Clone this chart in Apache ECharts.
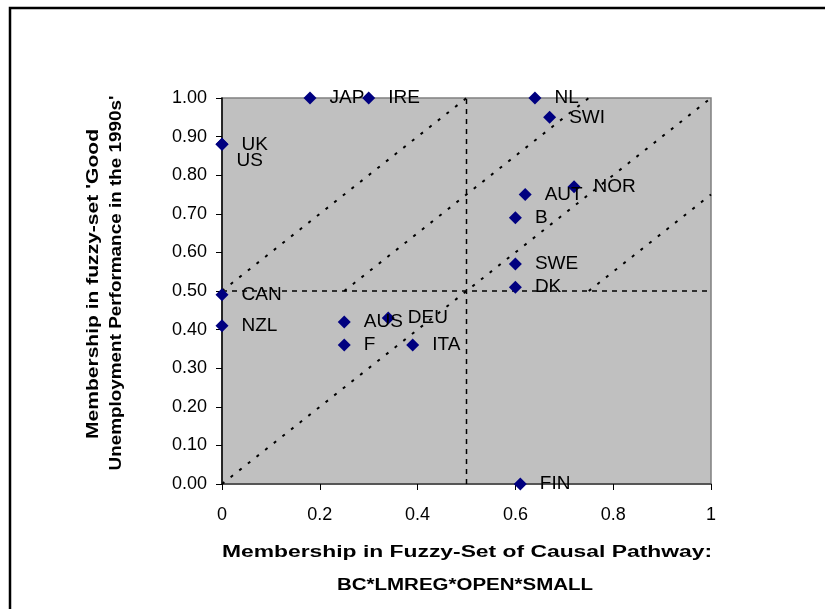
<!DOCTYPE html>
<html><head><meta charset="utf-8">
<script src="https://cdn.jsdelivr.net/npm/echarts@6/dist/echarts.min.js"></script>
<style>html,body{margin:0;padding:0;background:#fff}#chart{width:825px;height:609px}</style>
</head><body><div id="chart"></div>
<script>
// ---- data ----
const countries = ['JAP','IRE','NL','SWI','UK','US','NOR','AUT','B','SWE','DK','CAN','NZL','AUS','DEU','F','ITA','FIN'];
const pathwayMembership = [0.18,0.30,0.64,0.67,0,0,0.72,0.62,0.60,0.60,0.60,0,0,0.25,0.34,0.25,0.39,0.61];
const performanceMembership = [1.00,1.00,1.00,0.95,0.88,0.88,0.77,0.75,0.69,0.57,0.51,0.49,0.41,0.42,0.43,0.36,0.36,0.00];
const xTickLabels = ['0','0.2','0.4','0.6','0.8','1'];
const yTickLabels = ['0.00','0.10','0.20','0.30','0.40','0.50','0.60','0.70','0.80','0.90','1.00'];
// reference lines
const diagUpper = [[0,0.5],[0.5,1]];
const diagMidUpper = [[0.25,0.5],[0.75,1]];
const diagMain = [[0,0],[1,1]];
const diagLower = [[0.75,0.5],[1,0.75]];
const crossV = [[0.5,0],[0.5,1]];
const crossH = [[0,0.5],[1,0.5]];
const xTitle1 = 'Membership in Fuzzy-Set of Causal Pathway:';
const xTitle2 = 'BC*LMREG*OPEN*SMALL';
const yTitle1 = "Membership in fuzzy-set 'Good";
const yTitle2 = "Unemployment Performance in the 1990s'";

// ---- rendering ----
const FONT = '"Liberation Sans", Arial, sans-serif';
const labelOffsets = { US: [-5, 16] };
const cv = document.createElement('canvas').getContext('2d');
function measure(t, font) { cv.font = font; return cv.measureText(t).width; }
const TFONT = 'bold 16px ' + FONT;
function titleText(text, x, y, targetLen, rot) {
  const w = measure(text, TFONT);
  return {
    type: 'text', x: x, y: y, rotation: rot || 0, scaleX: targetLen / w, z: 100,
    style: { text: text, font: TFONT, fill: '#000', align: 'center', verticalAlign: 'middle',
             textAlign: 'center', textVerticalAlign: 'middle' }
  };
}

const points = countries.map((c, i) => {
  const item = { name: c, value: [pathwayMembership[i], performanceMembership[i]] };
  if (labelOffsets[c]) item.label = { offset: labelOffsets[c] };
  return item;
});

function refLine(data, dash, width) {
  return { type: 'line', data: data, symbol: 'none', silent: true, z: 1, animation: false,
           lineStyle: { color: '#000', width: width, type: dash } };
}

const chart = echarts.init(document.getElementById('chart'), null, { renderer: 'canvas' });
chart.setOption({
  animation: false,
  backgroundColor: '#fff',
  grid: { left: 222, top: 98, right: 114, bottom: 125, show: true, backgroundColor: '#C0C0C0',
          borderColor: '#808080', borderWidth: 1.5, containLabel: false },
  xAxis: {
    type: 'value', min: 0, max: 1, interval: 0.2,
    axisLine: { show: true, onZero: false, lineStyle: { color: '#404040', width: 1.5 } },
    axisTick: { show: true, length: 6, lineStyle: { color: '#000' } },
    splitLine: { show: false },
    axisLabel: { margin: 22, fontSize: 18, fontFamily: FONT, color: '#000',
                 formatter: (v) => xTickLabels[Math.round(v / 0.2)] }
  },
  yAxis: {
    type: 'value', min: 0, max: 1, interval: 0.1,
    axisLine: { show: true, onZero: false, lineStyle: { color: '#000', width: 1.5 } },
    axisTick: { show: true, length: 6, lineStyle: { color: '#000' } },
    splitLine: { show: false },
    axisLabel: { margin: 15, fontSize: 18, fontFamily: FONT, color: '#000',
                 formatter: (v) => yTickLabels[Math.round(v / 0.1)] }
  },
  series: [
    refLine(diagUpper, [3, 8], 2),
    refLine(diagMidUpper, [3, 8], 2),
    refLine(diagMain, [3, 8], 2),
    refLine(diagLower, [3, 8], 2),
    refLine(crossV, [5, 5], 1.5),
    refLine(crossH, [5, 5], 1.5),
    {
      type: 'scatter', data: points, symbol: 'diamond', symbolSize: 13, z: 5,
      itemStyle: { color: '#000080', opacity: 1 },
      label: { show: true, position: 'right', distance: 13, fontSize: 19, fontFamily: FONT, color: '#000',
               formatter: (p) => p.name }
    }
  ],
  graphic: [
    { type: 'rect', shape: { x: 10, y: 8, width: 900, height: 700 }, z: 100,
      style: { fill: null, stroke: '#000', lineWidth: 2.5 } },
    titleText(xTitle1, 467, 553, 490, 0),
    titleText(xTitle2, 465, 586, 256, 0),
    titleText(yTitle1, 94, 284, 310, Math.PI / 2),
    titleText(yTitle2, 117, 283, 375, Math.PI / 2)
  ]
});
</script>
</body></html>
